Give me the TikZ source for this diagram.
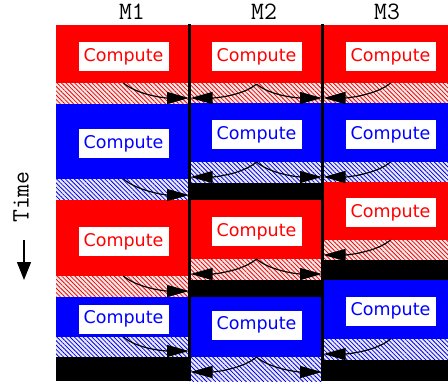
\documentclass[tikz,border=0pt]{standalone}
\usepackage{fontspec}
\setsansfont{DejaVu Sans}
\usetikzlibrary{arrows.meta,patterns.meta}
\tikzset{
  redc/.style={fill=red},
  bluec/.style={fill=blue},
  idle/.style={fill=black},
  hatchr/.style={preaction={fill=gray!15},pattern={Lines[angle=-45,distance=3.1pt,line width=0.8pt]},pattern color=red},
  hatchb/.style={preaction={fill=gray!15},pattern={Lines[angle=-45,distance=3.1pt,line width=0.8pt]},pattern color=blue},
  cbox/.style={fill=white,minimum width=90pt,minimum height=29pt,inner sep=0pt,font=\sffamily\fontsize{17.5}{17.5}\selectfont},
  comm/.style={line width=1.2pt,-{Triangle[length=22pt,width=12pt]}},
  mlabel/.style={font=\ttfamily\fontsize{25}{25}\selectfont},
  sep/.style={line width=2.7pt}
}
\newcommand\sendR[4]{\draw[comm] (#1,#2) .. controls +(14,12) and +(-24,0) .. (#3,#4);}
\newcommand\sendL[4]{\draw[comm] (#1,#2) .. controls +(-14,12) and +(24,0) .. (#3,#4);}
\begin{document}
\begin{tikzpicture}[x=1pt,y=-1pt]
\useasboundingbox (0,0) rectangle (448,381);
% column 1
\fill[redc]  (56,25) rectangle (189.5,83);
\fill[hatchr] (56,83) rectangle (189.5,104);
\fill[bluec] (56,104) rectangle (189.5,179);
\fill[hatchb] (56,179) rectangle (189.5,200);
\fill[redc]  (56,200) rectangle (189.5,276);
\fill[hatchr] (56,276) rectangle (189.5,297);
\fill[bluec] (56,297) rectangle (189.5,337);
\fill[hatchb] (56,337) rectangle (189.5,357);
\fill[idle]  (56,357) rectangle (189.5,381);
% column 2
\fill[redc]  (189.5,25) rectangle (322.5,83);
\fill[hatchr] (189.5,83) rectangle (322.5,103);
\fill[bluec] (189.5,103) rectangle (322.5,162);
\fill[hatchb] (189.5,162) rectangle (322.5,183);
\fill[idle]  (189.5,183) rectangle (322.5,200);
\fill[redc]  (189.5,200) rectangle (322.5,259);
\fill[hatchr] (189.5,259) rectangle (322.5,280);
\fill[idle]  (189.5,280) rectangle (322.5,297);
\fill[bluec] (189.5,297) rectangle (322.5,357);
\fill[hatchb] (189.5,357) rectangle (322.5,381);
% column 3
\fill[redc]  (322.5,25) rectangle (448,83);
\fill[hatchr] (322.5,83) rectangle (448,103);
\fill[bluec] (322.5,103) rectangle (448,162);
\fill[hatchb] (322.5,162) rectangle (448,182);
\fill[redc]  (322.5,182) rectangle (448,240);
\fill[hatchr] (322.5,240) rectangle (448,260);
\fill[idle]  (322.5,260) rectangle (448,280);
\fill[bluec] (322.5,280) rectangle (448,339);
\fill[hatchb] (322.5,339) rectangle (448,360);
\fill[idle]  (322.5,360) rectangle (448,381);
% separators
\draw[sep] (189.5,24) -- (189.5,381);
\draw[sep] (322.5,24) -- (322.5,381);
% communication arrows
\sendR{123.5}{83}{189}{98}
\sendL{256.5}{84}{190.5}{98}
\sendR{256.5}{84}{322}{98}
\sendL{390.5}{83}{323.5}{98}
\sendR{123.5}{179}{189}{195}
\sendL{256.5}{162}{190.5}{177}
\sendR{256.5}{162}{322}{177}
\sendL{390.5}{162}{323.5}{177}
\sendR{123.5}{276}{189}{291}
\sendL{256.5}{259}{190.5}{274}
\sendR{256.5}{259}{322}{274}
\sendL{390.5}{240}{323.5}{255}
\sendR{123.5}{337}{189}{351}
\sendL{256.5}{357}{190.5}{372}
\sendR{256.5}{357}{322}{372}
\sendL{390.5}{339}{323.5}{354}
% compute boxes
\node[cbox,text=red]  (c11) at (123.5,56.5) {Compute};
\node[cbox,text=red]  (c21) at (256.5,56.5) {Compute};
\node[cbox,text=red]  (c31) at (390.5,56.5) {Compute};
\node[cbox,text=blue] (c12) at (123.5,143.5) {Compute};
\node[cbox,text=blue] (c22) at (256.5,134.5) {Compute};
\node[cbox,text=blue] (c32) at (390.5,134.5) {Compute};
\node[cbox,text=red]  (c13) at (123.5,241.5) {Compute};
\node[cbox,text=red]  (c23) at (256.5,231.5) {Compute};
\node[cbox,text=red]  (c33) at (390.5,212.5) {Compute};
\node[cbox,text=blue] (c14) at (123.5,319) {Compute};
\node[cbox,text=blue] (c24) at (256.5,325) {Compute};
\node[cbox,text=blue] (c34) at (390.5,311) {Compute};
% headers
\node[mlabel] (m1) at (132,12) {M1};
\node[mlabel] (m2) at (264,12) {M2};
\node[mlabel] (m3) at (387,12) {M3};
% time axis
\node[mlabel,rotate=90] (time) at (21,197) {Time};
\coordinate (ta) at (24,240);
\coordinate (tb) at (24,280);
\draw[line width=1.3pt,-{Triangle[length=18pt,width=14pt]}] (ta) -- (tb);
\end{tikzpicture}
\end{document}
